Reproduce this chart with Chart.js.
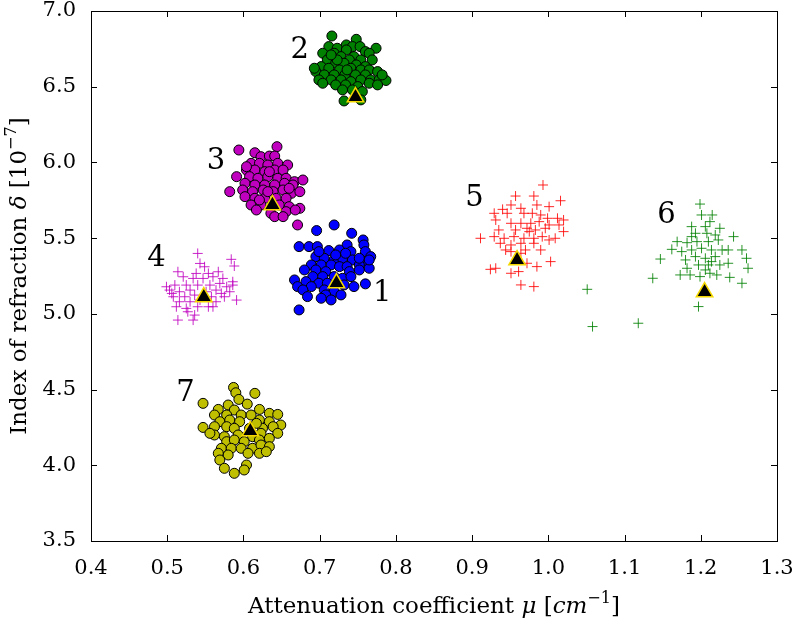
<!DOCTYPE html>
<html lang="en">
<head>
  <meta charset="UTF-8">
  <title>Attenuation vs refraction</title>
  <script src="https://cdn.jsdelivr.net/npm/chart.js"></script>
  <style>
    body { margin: 0; background: #fff; }
    #wrap { width: 793px; height: 627px; }
  </style>
</head>
<body>
  <div id="wrap"><canvas id="scatterChart"></canvas></div>

  <script>
    // samples, [mu, delta]
    const cluster1 = [[0.719,5.587],[0.696,5.550],[0.742,5.532],[0.757,5.488],[0.673,5.444],[0.686,5.444],[0.697,5.444],[0.736,5.455],[0.758,5.455],[0.712,5.418],[0.726,5.422],[0.741,5.411],[0.760,5.411],[0.767,5.378],[0.695,5.378],[0.706,5.367],[0.719,5.356],[0.730,5.367],[0.743,5.356],[0.756,5.345],[0.689,5.323],[0.702,5.323],[0.715,5.323],[0.726,5.312],[0.736,5.312],[0.752,5.323],[0.765,5.301],[0.680,5.290],[0.695,5.290],[0.708,5.279],[0.739,5.279],[0.752,5.290],[0.691,5.246],[0.704,5.246],[0.719,5.246],[0.730,5.235],[0.741,5.246],[0.667,5.224],[0.682,5.213],[0.699,5.202],[0.710,5.202],[0.732,5.191],[0.745,5.180],[0.760,5.198],[0.671,5.180],[0.689,5.180],[0.706,5.158],[0.719,5.147],[0.728,5.125],[0.678,5.158],[0.684,5.114],[0.708,5.125],[0.715,5.092],[0.702,5.103],[0.673,5.026],[0.752,5.367],[0.765,5.356],[0.734,5.400],[0.721,5.389],[0.699,5.411]];
    const cluster2 = [[0.716,6.835],[0.748,6.813],[0.735,6.776],[0.712,6.765],[0.723,6.754],[0.743,6.765],[0.753,6.765],[0.774,6.754],[0.704,6.721],[0.719,6.721],[0.735,6.743],[0.760,6.732],[0.765,6.721],[0.728,6.699],[0.745,6.699],[0.710,6.677],[0.739,6.677],[0.754,6.677],[0.769,6.677],[0.721,6.655],[0.732,6.655],[0.748,6.644],[0.760,6.633],[0.702,6.633],[0.712,6.622],[0.726,6.611],[0.741,6.622],[0.754,6.611],[0.765,6.611],[0.695,6.600],[0.776,6.600],[0.706,6.578],[0.719,6.578],[0.733,6.578],[0.747,6.578],[0.760,6.578],[0.699,6.545],[0.715,6.545],[0.728,6.545],[0.741,6.534],[0.754,6.545],[0.767,6.545],[0.778,6.545],[0.787,6.541],[0.704,6.523],[0.721,6.512],[0.734,6.512],[0.750,6.501],[0.765,6.523],[0.776,6.512],[0.730,6.479],[0.743,6.479],[0.756,6.468],[0.754,6.413],[0.732,6.406],[0.693,6.622],[0.782,6.578],[0.723,6.677],[0.715,6.710],[0.736,6.611]];
    const cluster3 = [[0.594,6.082],[0.644,6.104],[0.615,6.064],[0.623,6.038],[0.634,6.042],[0.641,6.042],[0.610,5.994],[0.621,5.994],[0.632,5.983],[0.645,5.994],[0.658,5.983],[0.604,5.950],[0.615,5.950],[0.628,5.939],[0.641,5.950],[0.652,5.950],[0.591,5.906],[0.608,5.906],[0.619,5.895],[0.632,5.906],[0.645,5.895],[0.656,5.895],[0.667,5.873],[0.678,5.884],[0.602,5.862],[0.615,5.851],[0.628,5.851],[0.641,5.851],[0.654,5.862],[0.665,5.851],[0.582,5.807],[0.599,5.818],[0.612,5.807],[0.626,5.818],[0.639,5.807],[0.652,5.818],[0.663,5.796],[0.674,5.807],[0.602,5.774],[0.615,5.763],[0.628,5.763],[0.643,5.763],[0.656,5.763],[0.610,5.719],[0.623,5.719],[0.647,5.719],[0.660,5.708],[0.674,5.697],[0.617,5.686],[0.636,5.664],[0.656,5.675],[0.668,5.686],[0.641,5.642],[0.652,5.642],[0.671,5.587],[0.604,5.972],[0.634,5.939],[0.660,5.829],[0.621,5.752],[0.632,5.807]];
    const cluster4 = [[0.540,5.399],[0.584,5.360],[0.543,5.333],[0.588,5.316],[0.549,5.311],[0.514,5.278],[0.538,5.267],[0.554,5.267],[0.567,5.278],[0.521,5.245],[0.534,5.234],[0.547,5.234],[0.560,5.245],[0.573,5.234],[0.586,5.212],[0.499,5.179],[0.510,5.190],[0.525,5.190],[0.540,5.190],[0.556,5.190],[0.569,5.201],[0.586,5.190],[0.503,5.157],[0.516,5.146],[0.530,5.157],[0.564,5.157],[0.571,5.135],[0.508,5.113],[0.523,5.113],[0.536,5.124],[0.558,5.113],[0.575,5.113],[0.591,5.091],[0.516,5.080],[0.530,5.080],[0.564,5.080],[0.512,5.047],[0.525,5.036],[0.540,5.047],[0.554,5.047],[0.560,5.047],[0.527,5.014],[0.536,4.992],[0.514,4.959],[0.534,4.959],[0.506,5.135],[0.551,5.146],[0.582,5.146],[0.543,5.091],[0.578,5.179]];
    const cluster5 = [[0.993,5.851],[0.957,5.778],[0.981,5.778],[1.016,5.747],[0.951,5.719],[0.940,5.690],[0.964,5.697],[0.985,5.719],[1.001,5.708],[0.929,5.664],[0.946,5.664],[0.968,5.664],[0.979,5.664],[0.990,5.653],[0.999,5.631],[1.012,5.631],[1.020,5.620],[0.931,5.620],[0.951,5.598],[0.964,5.598],[0.977,5.598],[0.988,5.609],[1.001,5.587],[1.014,5.587],[0.935,5.554],[0.957,5.554],[0.972,5.565],[0.983,5.554],[0.996,5.565],[1.020,5.543],[0.911,5.499],[0.929,5.510],[0.942,5.499],[0.955,5.510],[0.968,5.499],[0.981,5.499],[0.992,5.510],[1.001,5.488],[0.937,5.466],[0.951,5.455],[0.964,5.466],[0.981,5.466],[0.990,5.422],[0.951,5.411],[0.964,5.400],[0.972,5.334],[0.985,5.312],[1.003,5.345],[0.924,5.294],[0.931,5.301],[0.951,5.268],[0.961,5.279],[0.964,5.191],[0.981,5.180],[0.975,5.543],[0.944,5.422],[1.009,5.499],[0.970,5.422]];
    const cluster6 = [[1.199,5.725],[1.201,5.653],[1.215,5.653],[1.212,5.609],[1.188,5.576],[1.206,5.576],[1.225,5.565],[1.193,5.532],[1.208,5.532],[1.219,5.521],[1.243,5.510],[1.169,5.477],[1.182,5.470],[1.195,5.477],[1.210,5.477],[1.223,5.488],[1.162,5.426],[1.175,5.411],[1.188,5.422],[1.201,5.433],[1.214,5.422],[1.228,5.422],[1.236,5.422],[1.254,5.422],[1.180,5.356],[1.193,5.378],[1.206,5.367],[1.219,5.378],[1.260,5.367],[1.147,5.362],[1.182,5.301],[1.197,5.323],[1.210,5.323],[1.225,5.323],[1.236,5.334],[1.262,5.301],[1.173,5.257],[1.186,5.257],[1.199,5.246],[1.212,5.268],[1.221,5.257],[1.238,5.241],[1.137,5.235],[1.254,5.202],[1.051,5.162],[1.197,5.048],[1.058,4.916],[1.118,4.938],[1.188,5.510],[1.214,5.345],[1.206,5.290]];
    const cluster7 = [[0.587,4.514],[0.590,4.479],[0.615,4.475],[0.594,4.435],[0.547,4.409],[0.580,4.398],[0.605,4.404],[0.567,4.369],[0.588,4.365],[0.621,4.369],[0.562,4.332],[0.578,4.332],[0.597,4.332],[0.610,4.332],[0.634,4.343],[0.645,4.336],[0.569,4.288],[0.582,4.299],[0.595,4.288],[0.621,4.299],[0.634,4.288],[0.649,4.266],[0.547,4.250],[0.562,4.255],[0.578,4.255],[0.588,4.244],[0.625,4.244],[0.639,4.255],[0.562,4.200],[0.575,4.189],[0.593,4.200],[0.612,4.189],[0.623,4.211],[0.645,4.211],[0.578,4.156],[0.588,4.167],[0.601,4.156],[0.621,4.167],[0.634,4.178],[0.571,4.112],[0.584,4.112],[0.597,4.112],[0.612,4.112],[0.623,4.134],[0.634,4.123],[0.567,4.079],[0.580,4.068],[0.606,4.079],[0.621,4.079],[0.569,4.035],[0.604,4.002],[0.575,3.980],[0.588,3.947],[0.601,3.969],[0.556,4.211],[0.608,4.244],[0.617,4.277],[0.630,4.090]];

    // cluster means (triangles) and the number labels
    const centroidX = [0.722, 0.747, 0.638, 0.548, 0.959, 1.205, 0.609];
    const centroidY = [5.203, 6.432, 5.719, 5.111, 5.355, 5.144, 4.226];
    const clusterNames = ['1', '2', '3', '4', '5', '6', '7'];
    const nameX = [0.782, 0.674, 0.564, 0.486, 0.903, 1.155, 0.524];
    const nameY = [5.137, 6.742, 6.009, 5.369, 5.765, 5.653, 4.477];

    const xTicks = [0.4, 0.5, 0.6, 0.7, 0.8, 0.9, 1.0, 1.1, 1.2, 1.3];
    const yTicks = [3.5, 4.0, 4.5, 5.0, 5.5, 6.0, 6.5, 7.0];

    const SERIF = "'DejaVu Serif', 'Liberation Serif', serif";

    function toPoints(arr) {
      return arr.map(p => ({ x: p[0], y: p[1] }));
    }

    function circles(arr, color) {
      return {
        data: toPoints(arr), pointStyle: 'circle', pointRadius: 5,
        backgroundColor: color, borderColor: '#000', borderWidth: 1, order: 2
      };
    }

    function crosses(arr, color) {
      return {
        data: toPoints(arr), pointStyle: 'cross', pointRadius: 5,
        borderColor: color, backgroundColor: color, borderWidth: 1, order: 1
      };
    }

    // draw a string made of plain / italic / superscript pieces, centred on x
    function drawRich(ctx, parts, x, y, size) {
      const fontOf = p => (p.it ? 'italic ' : '') + (p.sup ? size * 0.7 : size) + 'px ' + SERIF;
      let total = 0;
      parts.forEach(p => { ctx.font = fontOf(p); total += ctx.measureText(p.t).width; });
      let cx = x - total / 2;
      parts.forEach(p => {
        ctx.font = fontOf(p);
        ctx.fillText(p.t, cx, p.sup ? y - size * 0.42 : y);
        cx += ctx.measureText(p.t).width;
      });
    }

    const framePlugin = {
      id: 'frame',
      afterDraw(chart) {
        const { ctx, chartArea: a, scales } = chart;
        ctx.save();
        ctx.strokeStyle = '#000';
        ctx.lineWidth = 1;
        ctx.strokeRect(a.left + 0.5, a.top + 0.5, a.right - a.left, a.bottom - a.top);

        // inward ticks on all four sides
        ctx.beginPath();
        xTicks.forEach(v => {
          const px = Math.round(scales.x.getPixelForValue(v)) + 0.5;
          ctx.moveTo(px, a.bottom); ctx.lineTo(px, a.bottom - 6);
          ctx.moveTo(px, a.top); ctx.lineTo(px, a.top + 6);
        });
        yTicks.forEach(v => {
          const py = Math.round(scales.y.getPixelForValue(v)) + 0.5;
          ctx.moveTo(a.left, py); ctx.lineTo(a.left + 6, py);
          ctx.moveTo(a.right, py); ctx.lineTo(a.right - 6, py);
        });
        ctx.stroke();

        // cluster numbers
        ctx.fillStyle = '#000';
        ctx.font = '29px ' + SERIF;
        ctx.textAlign = 'center';
        ctx.textBaseline = 'middle';
        clusterNames.forEach((n, i) => {
          ctx.fillText(n, scales.x.getPixelForValue(nameX[i]), scales.y.getPixelForValue(nameY[i]));
        });

        // axis titles
        ctx.textAlign = 'left';
        ctx.textBaseline = 'alphabetic';
        drawRich(ctx, [
          { t: 'Attenuation coefficient ' }, { t: 'μ', it: true }, { t: ' [' },
          { t: 'cm', it: true }, { t: '−1', sup: true }, { t: ']' }
        ], (a.left + a.right) / 2, 613, 23);

        ctx.translate(26, (a.top + a.bottom) / 2);
        ctx.rotate(-Math.PI / 2);
        drawRich(ctx, [
          { t: 'Index of refraction ' }, { t: 'δ', it: true }, { t: ' [10' },
          { t: '−7', sup: true }, { t: ']' }
        ], 0, 0, 23);
        ctx.restore();
      }
    };

    const tickFont = { family: SERIF, size: 21 };

    new Chart(document.getElementById('scatterChart'), {
      type: 'scatter',
      data: {
        datasets: [
          circles(cluster1, '#0000ff'),
          circles(cluster2, '#008000'),
          circles(cluster3, '#bf00bf'),
          crosses(cluster4, 'rgba(191,0,191,0.85)'),
          crosses(cluster5, 'rgba(255,0,0,0.85)'),
          crosses(cluster6, 'rgba(0,128,0,0.85)'),
          circles(cluster7, '#bfbf00'),
          {
            data: centroidX.map((x, i) => ({ x: x, y: centroidY[i] })),
            pointStyle: 'triangle', pointRadius: 9.5,
            backgroundColor: '#000', borderColor: '#f5d800', borderWidth: 1.5, order: 0
          }
        ]
      },
      options: {
        responsive: true,
        maintainAspectRatio: false,
        animation: false,
        layout: { padding: { top: 11, right: 16, left: 0, bottom: 0 } },
        plugins: { legend: { display: false }, tooltip: { enabled: false } },
        scales: {
          x: {
            type: 'linear', min: 0.4, max: 1.3,
            afterFit(s) { s.height = 86; s.paddingLeft = 0; s.paddingRight = 0; },
            afterBuildTicks(s) { s.ticks = xTicks.map(v => ({ value: v })); },
            ticks: { callback: v => v.toFixed(1), font: tickFont, color: '#000', padding: 7, maxRotation: 0 },
            grid: { display: false },
            border: { display: false }
          },
          y: {
            type: 'linear', min: 3.5, max: 7.0,
            afterFit(s) { s.width = 91; s.paddingTop = 0; s.paddingBottom = 0; },
            afterBuildTicks(s) { s.ticks = yTicks.map(v => ({ value: v })); },
            ticks: { callback: v => v.toFixed(1), font: tickFont, color: '#000', padding: 7 },
            grid: { display: false },
            border: { display: false }
          }
        }
      },
      plugins: [framePlugin]
    });
  </script>
</body>
</html>
